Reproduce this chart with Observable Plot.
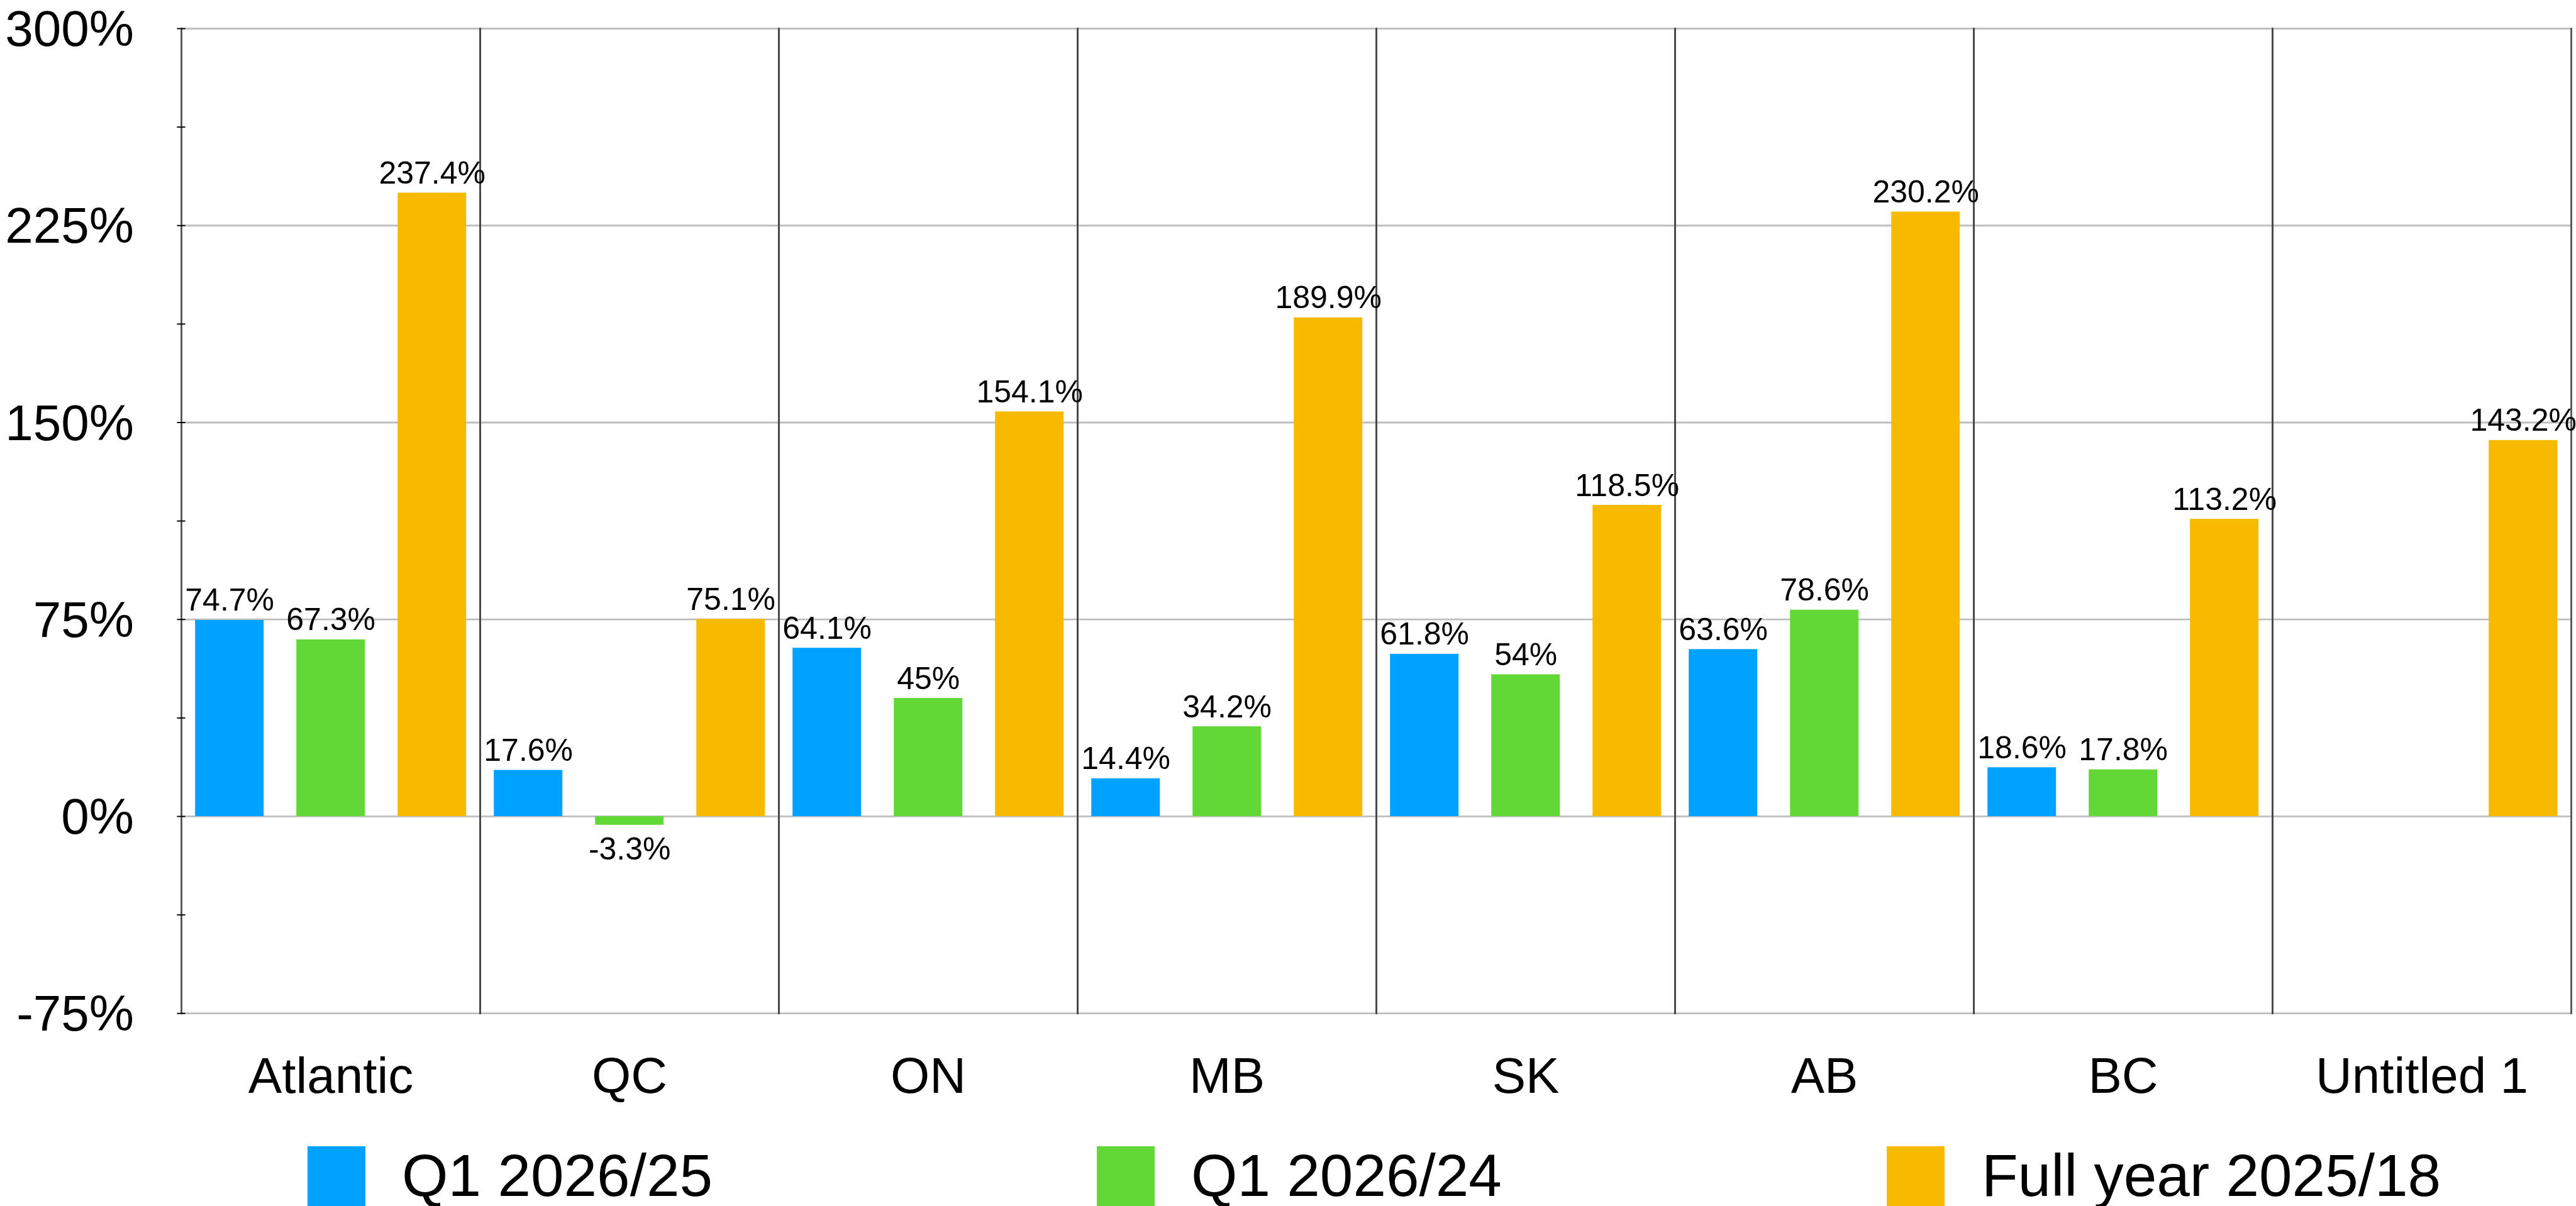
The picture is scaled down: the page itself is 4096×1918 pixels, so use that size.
<!DOCTYPE html>
<html>
<head>
<meta charset="utf-8">
<script src="https://cdn.jsdelivr.net/npm/d3@7"></script>
<script src="https://cdn.jsdelivr.net/npm/@observablehq/plot@0.6"></script>
<style>
  html, body { margin: 0; padding: 0; background: #ffffff; overflow: hidden; }
  body { width: 4096px; height: 1918px; }
  #legend { position: relative; width: 4096px; height: 158px;
            font-family: "Liberation Sans", Arial, Helvetica, sans-serif; color: #000; }
  .swatch { position: absolute; top: 63px; width: 92px; height: 100px; }
  .ltext { position: absolute; top: 62px; font-size: 94.5px; line-height: 1; white-space: nowrap; }
</style>
</head>
<body>
<div id="chart"></div>
<div id="legend"></div>
<script>
// ---- data ----
const categories = ["Atlantic", "QC", "ON", "MB", "SK", "AB", "BC", "Untitled 1"];
const seriesNames = ["Q1 2026/25", "Q1 2026/24", "Full year 2025/18"];
const seriesColors = ["#00A2FF", "#61D836", "#F8BA00"];
const q1_2026_25 = [74.7, 17.6, 64.1, 14.4, 61.8, 63.6, 18.6, null];
const q1_2026_24 = [67.3, -3.3, 45, 34.2, 54, 78.6, 17.8, null];
const fullYear_2025_18 = [237.4, 75.1, 154.1, 189.9, 118.5, 230.2, 113.2, 143.2];
const yTicks = [-75, -37.5, 0, 37.5, 75, 112.5, 150, 187.5, 225, 262.5, 300];
const yTickLabels = ["-75%", "", "0%", "", "75%", "", "150%", "", "225%", "", "300%"];
const gridValues = [-75, 0, 75, 150, 225, 300];

// ---- table ----
const seriesValues = [q1_2026_25, q1_2026_24, fullYear_2025_18];
const rows = [];
categories.forEach((c, i) => {
  seriesNames.forEach((s, j) => {
    const v = seriesValues[j][i];
    if (v !== null && v !== undefined) rows.push({category: c, series: s, value: v});
  });
});

const FONT = '"Liberation Sans", Arial, Helvetica, sans-serif';
const W = 4096, H = 1760;

const chart = Plot.plot({
  width: W,
  height: H,
  marginLeft: 287.8,
  marginRight: 7.9,
  marginTop: 45,
  marginBottom: H - 1611.2,
  style: {fontFamily: FONT, background: "#ffffff", color: "#000"},
  fx: {domain: categories, padding: 0, label: null},
  x: {domain: seriesNames, paddingInner: 0.326, paddingOuter: 0.137, axis: null},
  y: {domain: [-75, 300], label: null},
  color: {domain: seriesNames, range: seriesColors},
  marks: [
    Plot.gridY(gridValues, {stroke: "#BEBEBE", strokeOpacity: 1, strokeWidth: 2.8}),
    Plot.barY(rows, {fx: "category", x: "series", y: "value", fill: "series"}),
    Plot.frame({anchor: "left", stroke: "#454545", strokeWidth: 2.6}),
    Plot.frame({anchor: "right", stroke: "#454545", strokeWidth: 2.6}),
    Plot.axisY({ticks: yTicks, tickFormat: (d, i) => yTickLabels[i], tickSize: 0, tickPadding: 75.6,
                dy: 2, fontSize: 80, label: null, line: true, stroke: "#000", strokeWidth: 2.4}),
    Plot.axisY({ticks: yTicks, tickFormat: () => "", tickSize: 13.2, dx: 6.6,
                label: null, stroke: "#000", strokeWidth: 1.9}),
    Plot.axisFx({anchor: "bottom", tickSize: 0, tickPadding: 69, fontSize: 80, label: null}),
    Plot.text(rows.filter(d => d.value >= 0), {
      fx: "category", x: "series", y: "value", text: d => d.value + "%",
      lineAnchor: "bottom", dy: -15, fontSize: 50, fill: "#000"
    }),
    Plot.text(rows.filter(d => d.value < 0), {
      fx: "category", x: "series", y: "value", text: d => d.value + "%",
      lineAnchor: "top", dy: 19, fontSize: 50, fill: "#000"
    })
  ]
});
document.getElementById("chart").appendChild(chart);

// ---- legend (HTML, below the SVG) ----
const legendLeft = [488.6, 1743.5, 3000.4];
const legend = document.getElementById("legend");
seriesNames.forEach((name, i) => {
  const sw = document.createElement("div");
  sw.className = "swatch";
  sw.style.left = legendLeft[i] + "px";
  sw.style.background = seriesColors[i];
  legend.appendChild(sw);
  const t = document.createElement("div");
  t.className = "ltext";
  t.style.left = (legendLeft[i] + 150.5) + "px";
  t.textContent = name;
  legend.appendChild(t);
});
</script>
</body>
</html>
